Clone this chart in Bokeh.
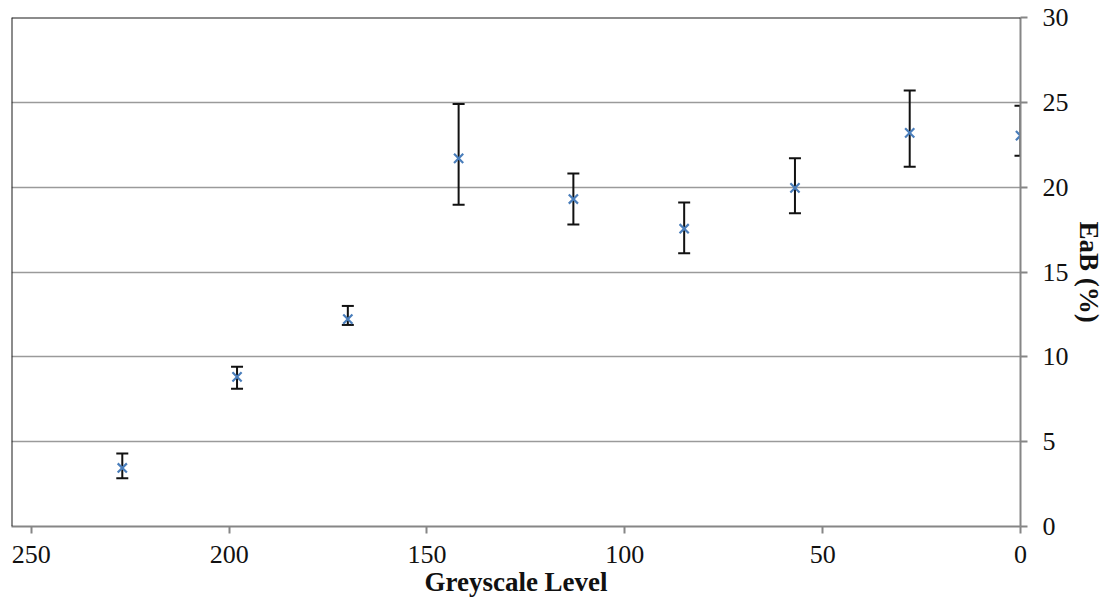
from bokeh.plotting import figure
from bokeh.models import Range1d, FixedTicker, Whisker, ColumnDataSource, Span, TeeHead
from bokeh.embed import file_html
from bokeh.resources import INLINE

# Data
grey_level = [227, 198, 170, 142, 113, 85, 57, 28, 0]
eab_mean = [3.45, 8.82, 12.22, 21.7, 19.3, 17.55, 19.96, 23.2, 23.04]
eab_upper = [4.3, 9.41, 13.0, 24.9, 20.8, 19.1, 21.7, 25.7, 24.8]
eab_lower = [2.85, 8.12, 11.88, 18.96, 17.8, 16.1, 18.47, 21.2, 21.85]
x_ticks = [250, 200, 150, 100, 50, 0]
y_ticks = [0, 5, 10, 15, 20, 25, 30]
x_title = "Greyscale Level"
y_title = "EaB (%)"

src = ColumnDataSource(dict(x=grey_level, y=eab_mean, upper=eab_upper, lower=eab_lower))

p = figure(width=1107, height=600,
           x_range=Range1d(255, 0), y_range=Range1d(0, 30),
           output_backend="svg", toolbar_location=None,
           y_axis_location="right",
           min_border_left=11, min_border_top=17, min_border_right=87, min_border_bottom=74,
           background_fill_color="white", border_fill_color="white")

p.outline_line_color = None
p.xgrid.visible = False
p.ygrid.ticker = FixedTicker(ticks=y_ticks)
p.ygrid.grid_line_color = "#9a9a9a"
p.ygrid.grid_line_width = 1.5

tick_font = "Liberation Serif"
for ax, ticks in ((p.xaxis[0], x_ticks), (p.yaxis[0], y_ticks)):
    ax.ticker = FixedTicker(ticks=ticks)
    ax.axis_line_color = "#868686"
    ax.axis_line_width = 2
    ax.major_tick_line_color = "#868686"
    ax.major_tick_line_width = 2
    ax.major_tick_in = 0
    ax.major_tick_out = 7
    ax.minor_tick_line_color = None
    ax.major_label_text_font = tick_font
    ax.major_label_text_font_size = "26px"
    ax.major_label_text_color = "#111111"
    ax.axis_label_text_font = tick_font
    ax.axis_label_text_font_size = "27px"
    ax.axis_label_text_font_style = "bold"
    ax.axis_label_text_color = "#111111"

p.xaxis[0].axis_label = x_title
p.xaxis[0].major_label_standoff = 12
p.xaxis[0].axis_label_standoff = 1
p.yaxis[0].axis_label = y_title
p.yaxis[0].major_label_standoff = 15
p.yaxis[0].axis_label_standoff = 2

# black top and left borders of the plot area
p.add_layout(Span(location=30, dimension="width", line_color="#1a1a1a", line_width=2))
p.add_layout(Span(location=255, dimension="height", line_color="#1a1a1a", line_width=2))

w = Whisker(base="x", upper="upper", lower="lower", source=src, dimension="height",
            line_color="#111111", line_width=2,
            upper_head=TeeHead(size=12, line_color="#111111", line_width=2),
            lower_head=TeeHead(size=12, line_color="#111111", line_width=2))
p.add_layout(w)

p.scatter("x", "y", source=src, marker="x", size=13, line_color="#4a7ebb", line_width=2.2)

open("out.html", "w").write(file_html(p, INLINE))
